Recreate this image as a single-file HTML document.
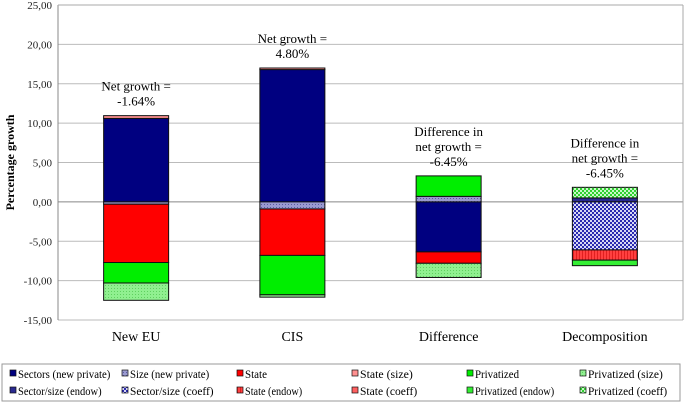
<!DOCTYPE html>
<html><head><meta charset="utf-8"><style>
body{margin:0;background:#fff;}
svg text{font-family:'Liberation Serif','Times New Roman','DejaVu Serif',serif;}
</style></head><body>
<svg id="c" width="685" height="403" xmlns="http://www.w3.org/2000/svg">
<defs>
<pattern id="pPurple" width="3" height="3" patternUnits="userSpaceOnUse"><rect width="3" height="3" fill="#9a9ad0"/><rect width="1" height="1" fill="#5a5aa0"/></pattern>
<pattern id="pCoeff" width="4" height="4" patternUnits="userSpaceOnUse"><rect width="4" height="4" fill="#d8d8f4"/><rect width="2" height="2" fill="#2a2ab0"/><rect x="2" y="2" width="2" height="2" fill="#2a2ab0"/></pattern>
<pattern id="pLGreen" width="3" height="3" patternUnits="userSpaceOnUse"><rect width="3" height="3" fill="#90f090"/><rect width="1" height="1" fill="#60d060"/></pattern>
<pattern id="pGCoeff" width="4" height="4" patternUnits="userSpaceOnUse"><rect width="4" height="4" fill="#c8f8c8"/><rect width="2" height="2" fill="#30d030"/><rect x="2" y="2" width="2" height="2" fill="#30d030"/></pattern>
<pattern id="pRed" width="3" height="3" patternUnits="userSpaceOnUse"><rect width="3" height="3" fill="#ff4040"/><rect width="1" height="3" fill="#e02020"/></pattern>
</defs>
<g id="grid"></g><g id="bars"></g><g id="labels"></g><g id="legend"></g>
</svg>
<script>
const categories = ["New EU","CIS","Difference","Decomposition"];
const seriesNames = ["Sectors (new private)","Size (new private)","State","State (size)","Privatized","Privatized (size)","Sector/size (endow)","Sector/size (coeff)","State (endow)","State (coeff)","Privatized (endow)","Privatized (coeff)"];
const seriesFills = ["#000080","url(#pPurple)","#ff0000","#ff9090","#00ee00","url(#pLGreen)","#2a2a90","url(#pCoeff)","url(#pRed)","#ff6060","#33ee33","url(#pGCoeff)"];
// values per series, per category
const sectorsNP   = [10.6, 16.8, -6.35, 0];
const sizeNP      = [-0.3, -0.9, 0.7, 0];
const stateV      = [-7.4, -5.9, -1.45, 0];
const stateSize   = [0.35, 0.2, 0, 0];
const privV       = [-2.6, -5.0, 2.6, 0];
const privSize    = [-2.2, -0.3, -1.8, 0];
const secEndow    = [0, 0, 0, 0.5];
const secCoeff    = [0, 0, 0, -6.1];
const stateEndow  = [0, 0, 0, -1.3];
const stateCoeff  = [0, 0, 0, 0];
const privEndow   = [0, 0, 0, -0.7];
const privCoeff   = [0, 0, 0, 1.35];
const seriesValues = [sectorsNP,sizeNP,stateV,stateSize,privV,privSize,secEndow,secCoeff,stateEndow,stateCoeff,privEndow,privCoeff];
const yTicks = [25,20,15,10,5,0,-5,-10,-15];
const notes = [["Net growth =","-1.64%"],["Net growth =","4.80%"],["Difference in","net growth =","-6.45%"],["Difference in","net growth =","-6.45%"]];

const NS="http://www.w3.org/2000/svg";
const X0=58,X1=683,Y0=5,Y1=320,yMax=25,yMin=-15;
const y=v=>Y0+(yMax-v)/(yMax-yMin)*(Y1-Y0);
const bw=(X1-X0)/categories.length;
const cx=i=>X0+bw*(i+0.5);
function mk(t,a,p){const e=document.createElementNS(NS,t);for(const k in a)e.setAttribute(k,a[k]);p.appendChild(e);return e;}
function fit(e,len){e.setAttribute('textLength',len);e.setAttribute('lengthAdjust','spacingAndGlyphs');}
const grid=document.getElementById('grid'),bars=document.getElementById('bars'),lab=document.getElementById('labels'),leg=document.getElementById('legend');
yTicks.forEach(t=>{
  const l=mk('line',{x1:X0,x2:X1,y1:y(t),y2:y(t),stroke:t===0?'#888':'#bbb','stroke-width':1},grid);
  
  
  const tx=mk('text',{x:52,y:y(t)+4,'text-anchor':'end','font-size':11,fill:'#222'},grid);
  tx.textContent=t.toFixed(2).replace('.',',');
  
  
});
mk('line',{x1:X0,x2:X0,y1:Y0,y2:Y1,stroke:'#888'},grid);
mk('line',{x1:X1,x2:X1,y1:Y0,y2:Y1,stroke:'#aaa'},grid);
mk('line',{x1:X0,x2:X1,y1:Y0,y2:Y0,stroke:'#aaa'},grid);
const yt=mk('text',{x:14,y:(Y0+Y1)/2,'text-anchor':'middle','font-size':12,'font-weight':'bold',transform:`rotate(-90 14 ${(Y0+Y1)/2})`},grid);
yt.textContent='Percentage growth';


categories.forEach((c,i)=>{
  const t=mk('text',{x:cx(i),y:341,'text-anchor':'middle','font-size':14},lab);
  t.textContent=c;
  
  
  let pos=0,neg=0;
  const w=65;
  seriesValues.forEach((arr,s)=>{
    const v=arr[i]; if(!v) return;
    let a,b;
    if(v>0){a=pos;b=pos+v;pos=b;}else{a=neg;b=neg+v;neg=b;}
    const r=mk('rect',{x:cx(i)-w/2,y:y(Math.max(a,b)),width:w,height:Math.abs(y(a)-y(b)),fill:seriesFills[s],stroke:'#111','stroke-width':1},bars);
    
    
  });
  const n=notes[i];
  n.forEach((line,k)=>{
    const tt=mk('text',{x:cx(i),y:y(pos)-10-(n.length-1-k)*15,'text-anchor':'middle','font-size':13},lab);
    tt.textContent=line;
    
    
  });
});
const lb=mk('rect',{x:2,y:364,width:678,height:37,fill:'#fff',stroke:'#999'},leg);


const colX=[10,122,237,352,467,580];
seriesNames.forEach((nm,s)=>{
  const col=s%6,row=Math.floor(s/6),lx=colX[col],ly=row?391:374;
  const g=mk('g',{},leg);
  
  
  mk('rect',{x:lx,y:ly-4,width:6,height:6,fill:seriesFills[s],stroke:'#111','stroke-width':0.7},g);
  const t=mk('text',{x:lx+8,y:ly+4,'font-size':12},g);
  t.textContent=nm;
  fit(t,nm.length*4.4);
});
</script>
</body></html>
